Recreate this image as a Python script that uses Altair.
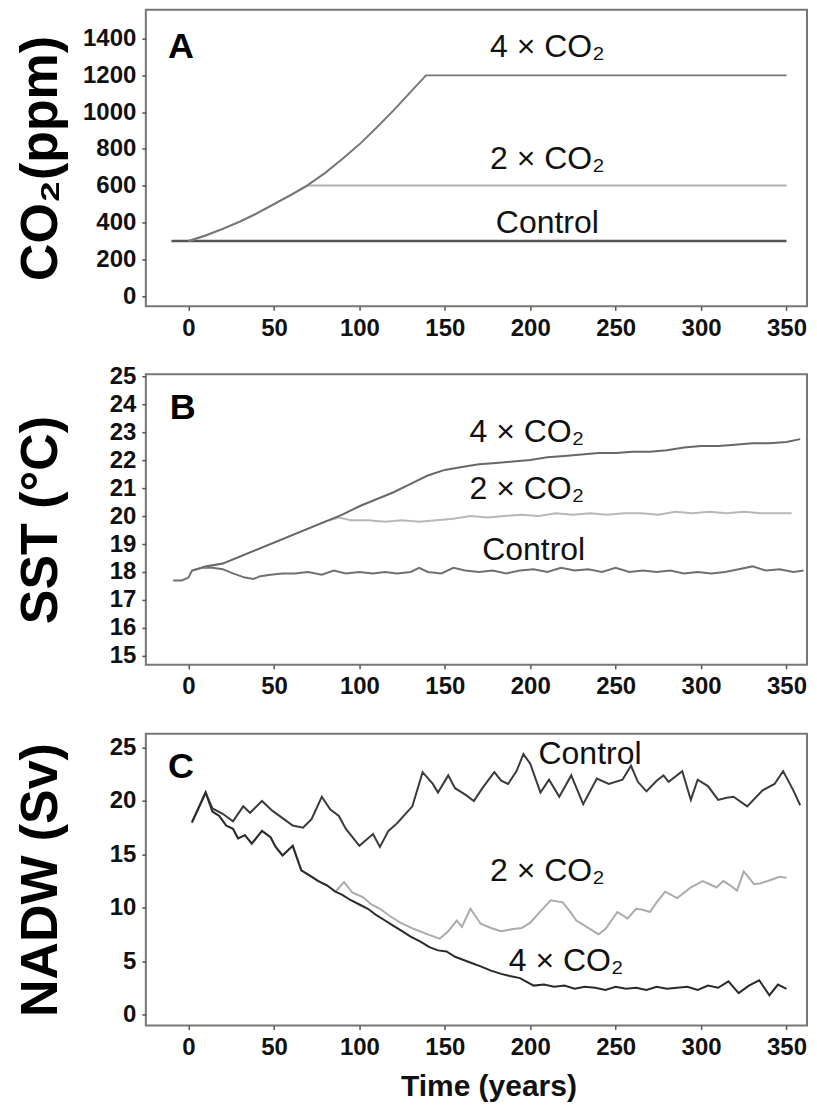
import altair as alt
import pandas as pd

# ---------------- data ----------------
# Panel A: CO2 (ppm)
a_ctrl_year = [-10, 350]
a_ctrl_val = [300, 300]
a_4x_year = [0, 10, 20, 30, 40, 50, 60, 70, 80, 90, 100, 110, 120, 130, 139, 350]
a_4x_val = [300, 330, 366, 405, 450, 500, 550, 605, 670, 745, 825, 915, 1010, 1110, 1200, 1200]
a_2x_year = [0, 10, 20, 30, 40, 50, 60, 70, 350]
a_2x_val = [300, 330, 366, 405, 450, 500, 550, 602, 602]

# Panel B: SST (deg C)
b_ctrl_year = [-9, -4, 0, 2, 8, 14, 20, 26, 33, 38, 42, 48, 55, 62, 70, 78, 85, 92, 100, 108,
               115, 122, 130, 135, 140, 148, 155, 162, 170, 178, 186, 194, 202, 210, 218, 226,
               234, 242, 250, 258, 266, 274, 282, 290, 298, 306, 314, 322, 330, 338, 346, 354, 360]
b_ctrl_val = [17.7, 17.7, 17.8, 18.05, 18.15, 18.15, 18.1, 17.95, 17.8, 17.75, 17.85, 17.9, 17.95,
              17.95, 18.0, 17.9, 18.05, 17.95, 18.0, 17.95, 18.0, 17.95, 18.0, 18.15, 18.0, 17.95,
              18.15, 18.05, 18.0, 18.05, 17.95, 18.05, 18.1, 18.0, 18.15, 18.05, 18.1, 18.0, 18.15,
              18.0, 18.05, 18.0, 18.05, 17.95, 18.0, 17.95, 18.0, 18.1, 18.2, 18.05, 18.1, 18.0, 18.05]
b_4x_year = [2, 10, 20, 30, 40, 50, 60, 70, 80, 90, 100, 110, 120, 130, 140, 150, 160, 170, 180,
             190, 200, 210, 220, 230, 240, 250, 260, 270, 280, 290, 300, 310, 320, 330, 340, 350, 358]
b_4x_val = [18.05, 18.2, 18.3, 18.55, 18.8, 19.05, 19.3, 19.55, 19.8, 20.05, 20.35, 20.6, 20.85,
            21.15, 21.45, 21.65, 21.75, 21.85, 21.9, 21.95, 22.0, 22.1, 22.15, 22.2, 22.25, 22.25,
            22.3, 22.3, 22.35, 22.45, 22.5, 22.5, 22.55, 22.6, 22.6, 22.65, 22.75]
b_2x_year = [2, 10, 20, 30, 40, 50, 60, 70, 80, 88, 95, 105, 115, 125, 135, 145, 155, 165, 175,
             185, 195, 205, 215, 225, 235, 245, 255, 265, 275, 285, 295, 305, 315, 325, 335, 345, 353]
b_2x_val = [18.05, 18.2, 18.3, 18.55, 18.8, 19.05, 19.3, 19.55, 19.8, 19.95, 19.85, 19.85, 19.8,
            19.85, 19.8, 19.85, 19.9, 20.0, 19.95, 20.0, 20.05, 20.0, 20.1, 20.05, 20.1, 20.05,
            20.1, 20.1, 20.05, 20.15, 20.1, 20.15, 20.1, 20.15, 20.1, 20.1, 20.1]

# Panel C: NADW (Sv)
c_ctrl_year = [2, 10, 14, 20, 26, 32, 36, 43, 49, 55, 61, 67, 72, 78, 83, 88, 92, 100, 108, 112,
               117, 122, 127, 131, 137, 143, 146, 152, 156, 162, 167, 172, 179, 183, 187, 192, 196,
               200, 206, 211, 217, 224, 231, 239, 246, 254, 259, 263, 268, 274, 278, 281, 289, 294,
               298, 304, 310, 315, 319, 327, 336, 343, 348, 354, 358]
c_ctrl_val = [18.0, 20.8, 19.3, 18.8, 18.1, 19.5, 18.9, 20.0, 19.1, 18.4, 17.7, 17.5, 18.3, 20.4,
              19.2, 18.6, 17.4, 15.8, 16.9, 15.7, 17.2, 17.9, 18.8, 19.5, 22.7, 21.6, 20.8, 22.4,
              21.2, 20.6, 20.0, 21.2, 22.7, 21.9, 21.6, 22.8, 24.4, 23.5, 20.8, 22.0, 20.4, 22.4,
              19.7, 22.1, 21.6, 22.0, 23.3, 21.8, 20.9, 21.9, 22.4, 21.8, 22.8, 20.1, 22.0, 21.4,
              20.1, 20.3, 20.4, 19.5, 21.0, 21.6, 22.8, 21.0, 19.6]
c_4x_year = [2, 10, 14, 18, 22, 26, 29, 33, 37, 43, 48, 51, 55, 61, 66, 71, 76, 81, 86, 90, 95,
             100, 105, 110, 115, 120, 125, 130, 136, 141, 146, 151, 156, 161, 166, 171, 177, 183,
             188, 194, 202, 208, 214, 220, 226, 232, 238, 244, 250, 256, 262, 268, 274, 280, 286,
             292, 298, 304, 310, 316, 322, 328, 334, 340, 345, 350]
c_4x_val = [18.0, 20.8, 19.0, 18.6, 17.7, 17.4, 16.5, 16.8, 16.0, 17.2, 16.6, 15.7, 14.9, 15.8,
            13.5, 13.0, 12.5, 12.1, 11.5, 11.2, 10.7, 10.3, 9.9, 9.3, 8.8, 8.3, 7.8, 7.3, 6.8, 6.3,
            6.0, 5.9, 5.4, 5.1, 4.8, 4.5, 4.1, 3.8, 3.6, 3.4, 2.7, 2.8, 2.6, 2.7, 2.4, 2.6, 2.5,
            2.3, 2.6, 2.4, 2.5, 2.3, 2.6, 2.4, 2.5, 2.6, 2.3, 2.7, 2.5, 3.1, 2.0, 2.7, 3.2, 1.8,
            2.8, 2.4]
c_2x_year = [2, 10, 14, 18, 22, 26, 29, 33, 37, 43, 48, 51, 55, 61, 66, 71, 76, 81, 86, 91, 96,
             102, 107, 112, 118, 124, 132, 140, 147, 152, 157, 160, 165, 171, 177, 183, 190, 195,
             200, 205, 212, 219, 223, 227, 232, 237, 240, 244, 251, 257, 262, 266, 270, 274, 279,
             286, 294, 301, 305, 309, 313, 317, 321, 325, 331, 335, 339, 346, 350]
c_2x_val = [18.0, 20.8, 19.0, 18.6, 17.7, 17.4, 16.5, 16.8, 16.0, 17.2, 16.6, 15.7, 14.9, 15.8,
            13.5, 13.0, 12.5, 12.1, 11.5, 12.4, 11.4, 11.0, 10.3, 9.9, 9.2, 8.6, 8.0, 7.5, 7.1,
            7.8, 8.8, 8.2, 9.9, 8.5, 8.1, 7.8, 8.0, 8.1, 8.6, 9.5, 10.7, 10.5, 9.7, 8.8, 8.3, 7.8,
            7.5, 8.0, 9.6, 9.0, 9.9, 9.8, 9.6, 10.5, 11.5, 10.9, 11.9, 12.5, 12.2, 11.9, 12.5,
            12.1, 11.6, 13.4, 12.2, 12.3, 12.5, 12.9, 12.8]

# annotation labels (year, value, text)
a_lab_year = [210, 210, 210]
a_lab_val = [1355, 743, 399]
b_lab_year = [198, 198, 202]
b_lab_val = [23.0, 20.96, 18.8]
c_lab_year = [235, 210, 221]
c_lab_val = [24.4, 13.4, 5.0]
lab_text_a = ["4 × CO₂", "2 × CO₂", "Control"]
lab_text_b = ["4 × CO₂", "2 × CO₂", "Control"]
lab_text_c = ["Control", "2 × CO₂", "4 × CO₂"]

panel_letters = ["A", "B", "C"]
letter_year = [-12, -11, -12]
letter_val = [1355, 23.85, 23.2]

x_ticks = [0, 50, 100, 150, 200, 250, 300, 350]
a_ticks = [0, 200, 400, 600, 800, 1000, 1200, 1400]
b_ticks = list(range(15, 26))
c_ticks = [0, 5, 10, 15, 20, 25]

X_DOMAIN = [-25, 362]
W = 662

LABEL_FONT = "Liberation Sans"
TITLE_FONT = "Liberation Sans"


def series_df(years, vals):
    return pd.DataFrame({"year": years, "value": vals})


def panel(series, y_domain, y_ticks, y_title, labels, letter, height, show_xtitle):
    if show_xtitle:
        x_axis = alt.Axis(values=x_ticks, title="Time (years)", titleFontSize=30,
                          titleFont=LABEL_FONT, titleFontWeight="bold", titlePadding=12,
                          titleColor="#111", titleX=343, titleAlign="center", format="d")
    else:
        x_axis = alt.Axis(values=x_ticks, title=None, format="d")
    y_axis = alt.Axis(values=y_ticks, title=y_title, titleFont=TITLE_FONT, format="d",
                      titleFontWeight="bold", titleFontSize=52, titleX=-89, titleY=height / 2,
                      titleBaseline="alphabetic", titleAlign="center", titleColor="#000")
    xenc = alt.X("year:Q", scale=alt.Scale(domain=X_DOMAIN, nice=False, zero=False), axis=x_axis)
    yenc = alt.Y("value:Q", scale=alt.Scale(domain=y_domain, nice=False, zero=False), axis=y_axis)

    layers = []
    for (yrs, vals, color, sw) in series:
        layers.append(
            alt.Chart(series_df(yrs, vals)).mark_line(color=color, strokeWidth=sw).encode(
                x=xenc, y=yenc)
        )
    lab_df = pd.DataFrame({"year": labels[0], "value": labels[1], "label": labels[2]})
    layers.append(
        alt.Chart(lab_df).mark_text(font=LABEL_FONT, fontSize=32, color="#111", align="center",
                                    baseline="middle").encode(x=xenc, y=yenc, text="label:N")
    )
    let_df = pd.DataFrame({"year": [letter[0]], "value": [letter[1]], "label": [letter[2]]})
    layers.append(
        alt.Chart(let_df).mark_text(font=LABEL_FONT, fontSize=36, fontWeight="bold",
                                    color="#000", align="left", baseline="middle").encode(
            x=xenc, y=yenc, text="label:N")
    )
    return alt.layer(*layers).properties(width=W, height=height)


pA = panel(
    [(a_ctrl_year, a_ctrl_val, "#555555", 2.5),
     (a_2x_year, a_2x_val, "#b0b0b0", 2),
     (a_4x_year, a_4x_val, "#777777", 2)],
    [-55, 1557], a_ticks, "CO₂(ppm)",
    (a_lab_year, a_lab_val, lab_text_a), (letter_year[0], letter_val[0], panel_letters[0]),
    297, False)

pB = panel(
    [(b_ctrl_year, b_ctrl_val, "#707070", 2),
     (b_2x_year, b_2x_val, "#b8b8b8", 2),
     (b_4x_year, b_4x_val, "#686868", 2)],
    [14.68, 25.07], b_ticks, "SST (°C)",
    (b_lab_year, b_lab_val, lab_text_b), (letter_year[1], letter_val[1], panel_letters[1]),
    291, False)

pC = panel(
    [(c_ctrl_year, c_ctrl_val, "#3a3a3a", 2),
     (c_2x_year, c_2x_val, "#ababab", 2),
     (c_4x_year, c_4x_val, "#2a2a2a", 2)],
    [-1.03, 26.3], c_ticks, "NADW (Sv)",
    (c_lab_year, c_lab_val, lab_text_c), (letter_year[2], letter_val[2], panel_letters[2]),
    292, True)

top_pair = alt.vconcat(pA, pB, spacing=21)
chart = alt.vconcat(top_pair, pC, spacing=33).properties(
    padding={"left": 6, "top": 0, "right": 0, "bottom": 0}
).configure_view(
    stroke="#777777", strokeWidth=2
).configure_axis(
    domain=False, grid=False, ticks=True, tickColor="#555555", tickSize=4, tickWidth=1.5,
    labelFont=LABEL_FONT, labelFontSize=24, labelFontWeight="bold", labelColor="#111111",
    labelPadding=6, labelOverlap=False, labelFlush=False
)

chart.save("out.html", embed_options={"renderer": "svg", "actions": False})
